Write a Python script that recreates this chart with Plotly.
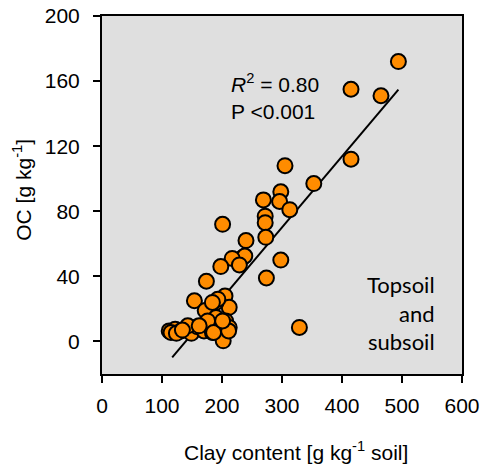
import plotly.graph_objects as go

# Data
clay = [494, 415, 465, 415, 353, 305, 298, 296, 313, 269, 272, 272, 201, 240, 273,
        234, 238, 217, 229, 198, 298, 274, 174, 154, 205, 329, 202, 172, 212, 190,
        190, 206, 212, 112, 122, 132, 149, 159, 170, 184, 176, 143, 115, 124, 134,
        162, 186, 211, 201, 193, 184]
oc = [172, 155, 151, 112, 97, 108, 92, 86, 81, 87, 77, 73, 72, 62, 64,
      51.5, 52.5, 51, 47, 46, 50, 39, 37, 25, 28, 8.6, 0.4, 19, 21, 24,
      14.7, 12.6, 8.6, 6.5, 7.5, 6.5, 5, 9, 6.5, 5.5, 12.6, 9.6, 5.5, 5, 7,
      9.6, 5.5, 6.5, 12.6, 26, 24]

fit_slope = 0.4366
fit_intercept = -60.9
fit_x_range = [117, 494]

x_ticks = [0, 100, 200, 300, 400, 500, 600]
y_ticks = [0, 40, 80, 120, 160, 200]

fit_y = [fit_slope * v + fit_intercept for v in fit_x_range]

fig = go.Figure()
fig.add_trace(go.Scatter(x=fit_x_range, y=fit_y, mode="lines",
                         line=dict(color="black", width=2), showlegend=False,
                         hoverinfo="skip"))
fig.add_trace(go.Scatter(x=clay, y=oc, mode="markers",
                         marker=dict(size=15, color="#FF8C00",
                                     line=dict(color="black", width=2)),
                         showlegend=False))

font_main = "Liberation Sans"
fs = 21

fig.update_layout(
    width=485, height=466,
    margin=dict(l=102, r=23, t=16, b=92),
    paper_bgcolor="white",
    plot_bgcolor="#DFDFDF",
    font=dict(family=font_main, size=fs, color="black"),
    xaxis=dict(range=[0, 600], tickvals=x_ticks, ticks="outside", ticklen=7,
               tickwidth=2, tickcolor="black", showgrid=False, zeroline=False,
               showline=True, linecolor="black", linewidth=2, mirror=True,
               automargin=False, ticklabelstandoff=5, ticklabeloverflow="allow",
               tickfont=dict(size=fs, family=font_main)),
    yaxis=dict(range=[-20, 200], tickvals=y_ticks, ticks="outside", ticklen=7,
               tickwidth=2, tickcolor="black", showgrid=False, zeroline=False,
               showline=True, linecolor="black", linewidth=2, mirror=True,
               automargin=False, ticklabelstandoff=9, ticklabeloverflow="allow",
               tickfont=dict(size=fs, family=font_main)),
)

# axis titles
fig.add_annotation(x=0.539, y=-0.215, xref="paper", yref="paper",
                   xanchor="center", yanchor="middle", showarrow=False,
                   text="Clay content [g kg<sup>-1</sup> soil]",
                   font=dict(size=fs, family=font_main))
fig.add_annotation(x=-0.222, y=0.515, xref="paper", yref="paper",
                   xanchor="center", yanchor="middle", showarrow=False,
                   textangle=-90, text="OC [g kg<sup>-1</sup>]",
                   font=dict(size=fs, family=font_main))

# statistics
fig.add_annotation(x=0.353, y=0.813, xref="paper", yref="paper",
                   xanchor="left", yanchor="middle", showarrow=False,
                   text="<i>R</i><sup>2</sup> = 0.80",
                   font=dict(size=fs, family=font_main))
fig.add_annotation(x=0.353, y=0.732, xref="paper", yref="paper",
                   xanchor="left", yanchor="middle", showarrow=False,
                   text="P <0.001", font=dict(size=fs, family=font_main))
fig.add_annotation(x=0.931, y=0.170, xref="paper", yref="paper",
                   xanchor="right", yanchor="middle", showarrow=False, align="right",
                   text="Topsoil<br>and<br>subsoil",
                   font=dict(size=22, family="Lato"))

fig.write_html("out.html",
               config={"displayModeBar": False},
               post_script="document.body.style.margin='0';"
                           "document.body.style.overflow='hidden';")
